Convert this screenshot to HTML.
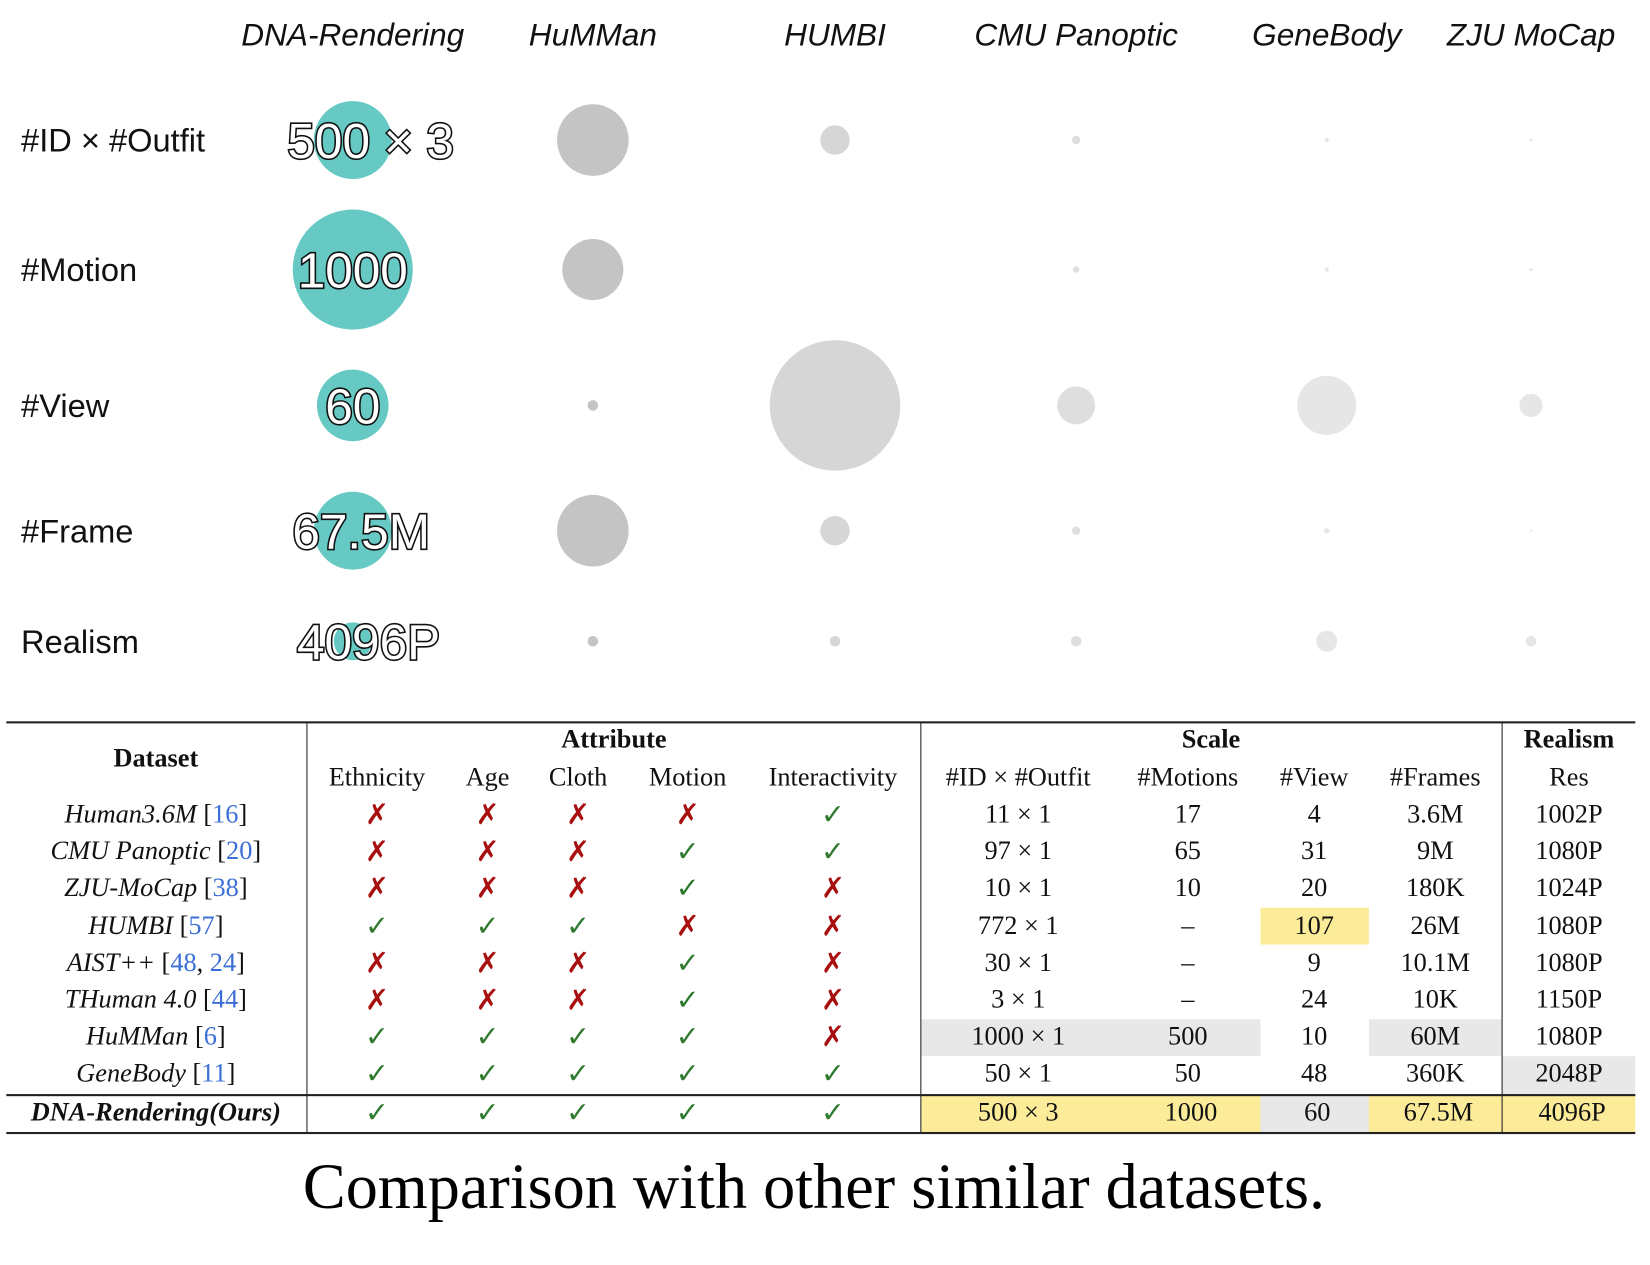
<!DOCTYPE html>
<html><head><meta charset="utf-8">
<style>
html,body{margin:0;padding:0;background:#fff;width:1650px;height:1265px;overflow:hidden}
#wrap{position:absolute;left:0;top:0;width:1560px;height:1196px;transform:scale(1.053);transform-origin:0 0}
.t{position:absolute;white-space:nowrap;transform:translate(-50%,-50%);font-family:"Liberation Serif",serif;font-size:25px;color:#111}
.hl{position:absolute}
.ln{position:absolute;background:#222}
.cap{position:absolute;left:0;width:1546px;text-align:center;top:1093px;font-family:"Liberation Serif",serif;font-size:61px;color:#000}
.ref{color:#3b6fd6}
.ok{color:#2f7a2f;font-family:"DejaVu Sans",sans-serif;font-size:27px}
.no{color:#a81010;font-family:"DejaVu Sans",sans-serif;font-size:27px}
</style></head><body>
<div id="wrap">
<svg id="chart" width="1560" height="670" style="position:absolute;left:0;top:0"></svg>
<div id="table"></div>
<div class="cap">Comparison with other similar datasets.</div>
</div>
<script>
// ---------- bubble chart data ----------
const datasets = ["DNA-Rendering","HuMMan","HUMBI","CMU Panoptic","GeneBody","ZJU MoCap"];
const metrics = ["#ID × #Outfit","#Motion","#View","#Frame","Realism"];
const sizeId      = [37, 34, 14, 4, 2, 1.5];
const sizeMotion  = [57, 29, 0, 3, 2, 1.5];
const sizeView    = [34, 5, 62, 18, 28, 11];
const sizeFrame   = [37, 34, 14, 4, 2.5, 1];
const sizeRealism = [18, 5, 5, 5, 10, 5];
const oursLabels  = ["500 × 3","1000","60","67.5M","4096P"];
const colColors = ["#66c9c3","#c4c4c4","#d6d6d6","#dedede","#e6e6e6","#e6e6e6"];

const colX = [335,563,793,1022,1260,1454];
const rowY = [133,256,385,504,609];
const labelDx = [17,0,0,8,15];
const xPos = i => colX[i];
const yPos = j => rowY[j];
const rScale = v => v;

const NS="http://www.w3.org/2000/svg";
const svg=document.getElementById('chart');
function mk(tag,attrs){const e=document.createElementNS(NS,tag);for(const k in attrs)e.setAttribute(k,attrs[k]);return e;}

datasets.forEach((d,i)=>{
  const t=mk('text',{x:xPos(i),y:43,'text-anchor':'middle','font-family':'Liberation Sans, sans-serif','font-style':'italic','font-size':30,fill:'#111'});
  t.textContent=d;
  
  
  svg.appendChild(t);
});
metrics.forEach((m,j)=>{
  const t=mk('text',{x:20,y:yPos(j)+11,'font-family':'Liberation Sans, sans-serif','font-size':31,fill:'#111'});
  t.textContent=m;
  
  
  svg.appendChild(t);
});
const rows=[sizeId,sizeMotion,sizeView,sizeFrame,sizeRealism];
rows.forEach((arr,j)=>{
  arr.forEach((v,i)=>{
    if(v<=0) return;
    const c=mk('circle',{cx:xPos(i),cy:yPos(j),r:rScale(v),fill:colColors[i]});
    
    
    svg.appendChild(c);
  });
  const t=mk('text',{x:xPos(0)+labelDx[j],y:yPos(j)+17,'text-anchor':'middle','font-family':'Liberation Sans, sans-serif','font-size':47,fill:'#fff',stroke:'#111','stroke-width':3,'paint-order':'stroke'});
  t.textContent=oursLabels[j];
  
  
  svg.appendChild(t);
});

// ---------- table ----------
const tbl=document.getElementById('table');
function box(cls,x,y,w,h,bg,name){const e=document.createElement('div');e.className=cls;e.style.left=x+'px';e.style.top=y+'px';e.style.width=w+'px';e.style.height=h+'px';if(bg)e.style.background=bg;


tbl.appendChild(e);}
function txt(x,y,html,extra,name){const e=document.createElement('div');e.className='t';e.style.left=x+'px';e.style.top=y+'px';e.innerHTML=html;if(extra)e.style.cssText+=extra;


tbl.appendChild(e);}
const Y='#fcec9a',G='#e8e8e8';
box('hl',1197,862,103,35,Y,'highlight');
box('hl',875,968,322,35,G,'highlight');
box('hl',1300,968,127,35,G,'highlight');
box('hl',1427,1003,126,36,G,'highlight');
box('hl',875,1040,322,36,Y,'highlight');
box('hl',1197,1040,103,36,G,'highlight');
box('hl',1300,1040,253,36,Y,'highlight');
box('ln',6,685,1547,2,null,'top-rule');
box('ln',6,1039,1547,2,null,'mid-rule');
box('ln',6,1075,1547,2,null,'bottom-rule');
box('ln',291,686,1,390,null,'divider');
box('ln',874,686,1,390,null,'divider');
box('ln',1426,686,1,390,null,'divider');

const cx=[148,358,463,549,653,791,967,1128,1248,1363,1490];
txt(148,721,'<b>Dataset</b>','','header');
txt(583,703,'<b>Attribute</b>','','header');
txt(1150,703,'<b>Scale</b>','','header');
txt(1490,703,'<b>Realism</b>','','header');
const sub=['Ethnicity','Age','Cloth','Motion','Interactivity','#ID × #Outfit','#Motions','#View','#Frames','Res'];
sub.forEach((s,i)=>txt(cx[i+1],739,s,'','subheader'));
const names=['<i>Human3.6M</i> [<span class="ref">16</span>]','<i>CMU Panoptic</i> [<span class="ref">20</span>]','<i>ZJU-MoCap</i> [<span class="ref">38</span>]','<i>HUMBI</i> [<span class="ref">57</span>]','<i>AIST++</i> [<span class="ref">48</span>, <span class="ref">24</span>]','<i>THuman 4.0</i> [<span class="ref">44</span>]','<i>HuMMan</i> [<span class="ref">6</span>]','<i>GeneBody</i> [<span class="ref">11</span>]','<b><i>DNA-Rendering(Ours)</i></b>'];
const attrs=['00001','00011','00010','11100','00010','00010','11110','11111','11111'];
const scale=[['11 × 1','17','4','3.6M','1002P'],['97 × 1','65','31','9M','1080P'],['10 × 1','10','20','180K','1024P'],['772 × 1','–','107','26M','1080P'],['30 × 1','–','9','10.1M','1080P'],['3 × 1','–','24','10K','1150P'],['1000 × 1','500','10','60M','1080P'],['50 × 1','50','48','360K','2048P'],['500 × 3','1000','60','67.5M','4096P']];
const ry=[774,809,844,880,915,950,985,1020,1057];
names.forEach((n,r)=>{
  txt(cx[0],ry[r],n,'','dataset-name');
  for(let k=0;k<5;k++){const ok=attrs[r][k]==='1';txt(cx[k+1],ry[r],ok?'<span class="ok">✓</span>':'<span class="no">✗</span>','',ok?'check-mark':'cross-mark');}
  scale[r].forEach((v,k)=>txt(cx[k+6]+(r===8&&k>0?3:0),ry[r],v,'','cell-value'));
});
</script>
</body></html>
